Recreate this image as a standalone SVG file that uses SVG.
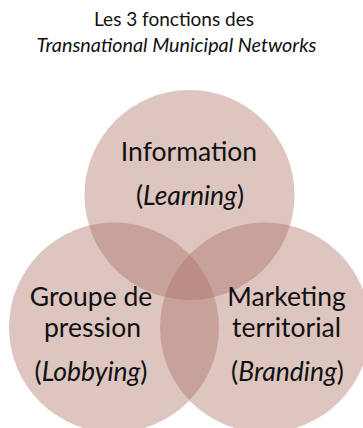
<svg xmlns="http://www.w3.org/2000/svg" width="363" height="428" viewBox="0 0 363 428">
<style>
.c{fill:#A96E61;fill-opacity:0.4}
text{font-family:Lato,"Open Sans","Liberation Sans",sans-serif;fill:#111;text-anchor:middle}
.t{font-size:19px}
.l{font-size:26.5px}
.i{font-style:italic}
</style>
<rect width="363" height="428" fill="#fff"/>
<g id="title">
<text class="t" x="174" y="26">Les 3 fonctions des</text>
<text class="t i" x="176.5" y="52" style="font-size:19.8px">Transnational Municipal Networks</text>
</g>
<g id="information">
<circle class="c" cx="189.5" cy="195" r="105"/>
<text class="l" x="189" y="161">Information</text>
<text class="l" x="190" y="205">(<tspan class="i">Learning</tspan>)</text>
</g>
<g id="lobbying">
<circle class="c" cx="114" cy="327.5" r="105"/>
<text class="l" x="91" y="306">Groupe de</text>
<text class="l" x="92.5" y="337">pression</text>
<text class="l" x="91" y="381">(<tspan class="i">Lobbying</tspan>)</text>
</g>
<g id="branding">
<circle class="c" cx="265" cy="327.5" r="105"/>
<text class="l" x="286.5" y="306">Marketing</text>
<text class="l" x="286.5" y="337">territorial</text>
<text class="l" x="287.5" y="381">(<tspan class="i">Branding</tspan>)</text>
</g>
<g id="connectors"/>
</svg>
